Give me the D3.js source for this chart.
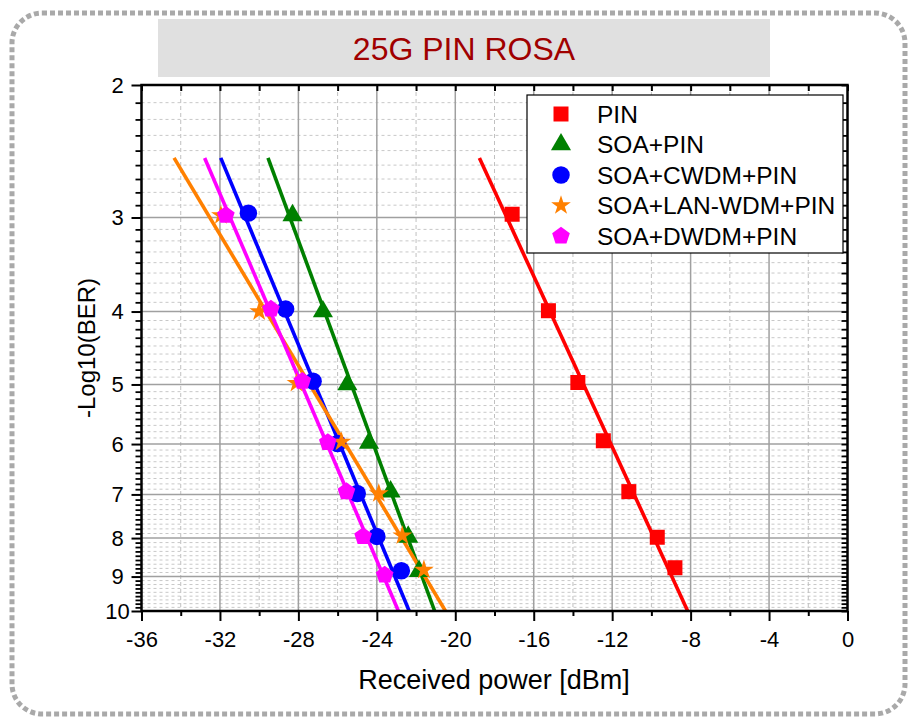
<!DOCTYPE html>
<html>
<head>
<meta charset="utf-8">
<script src="https://cdn.jsdelivr.net/npm/d3@7/dist/d3.min.js"></script>
<style>
  html, body { margin: 0; padding: 0; background: #ffffff; }
  svg { display: block; font-family: Arial, "Liberation Sans", sans-serif; }
</style>
</head>
<body>
<svg id="chart" width="911" height="718"></svg>
<script>
// Received power (dBm) and -log10(BER) for each receiver configuration
const seriesNames = ["PIN", "SOA+PIN", "SOA+CWDM+PIN", "SOA+LAN-WDM+PIN", "SOA+DWDM+PIN"];
const seriesColors = ["#ff0000", "#008000", "#0000ff", "#ff8000", "#ff00ff"];
const seriesSymbols = ["square", "triangle", "circle", "star", "pentagon"];

const pinPower  = [-17.1, -15.25, -13.75, -12.45, -11.15, -9.7, -8.8];
const pinLogBer = [2.97, 3.99, 4.97, 5.94, 6.94, 7.98, 8.76];

const soaPower  = [-28.3, -26.75, -25.5, -24.4, -23.3, -22.4, -21.85];
const soaLogBer = [2.98, 4.0, 5.0, 5.98, 6.94, 7.97, 8.85];

const cwdmPower  = [-30.55, -28.65, -27.25, -26.0, -25.0, -24.0, -22.75];
const cwdmLogBer = [2.96, 3.97, 4.95, 5.99, 6.98, 7.96, 8.84];

const lanPower  = [-31.95, -30.0, -28.1, -25.8, -23.9, -22.7, -21.6];
const lanLogBer = [2.98, 4.0, 4.98, 5.96, 6.98, 7.94, 8.82];

const dwdmPower  = [-31.7, -29.4, -27.8, -26.5, -25.55, -24.7, -23.6];
const dwdmLogBer = [2.98, 3.97, 4.95, 5.97, 6.94, 7.96, 8.96];

// Linear fits: power at -log10(BER) = 2.5 and at 10
const fitLogBer = [2.5, 10];
const fitPowerStart = [-18.77, -29.55, -31.96, -34.34, -32.78];
const fitPowerEnd   = [-8.15, -21.05, -22.35, -20.5, -22.9];

const xTicks = [-36, -32, -28, -24, -20, -16, -12, -8, -4, 0];
const xMinorTicks = [-34, -30, -26, -22, -18, -14, -10, -6, -2];
const yTicks = [2, 3, 4, 5, 6, 7, 8, 9, 10];

const titleText = "25G PIN ROSA";
const xLabel = "Received power [dBm]";
const yLabel = "-Log10(BER)";

const powers = [pinPower, soaPower, cwdmPower, lanPower, dwdmPower];
const logBers = [pinLogBer, soaLogBer, cwdmLogBer, lanLogBer, dwdmLogBer];
const series = seriesNames.map((name, i) => ({
  name,
  color: seriesColors[i],
  symbol: seriesSymbols[i],
  points: powers[i].map((p, j) => ({ x: p, y: logBers[i][j] })),
  fit: [{ x: fitPowerStart[i], y: fitLogBer[0] }, { x: fitPowerEnd[i], y: fitLogBer[1] }]
}));

// Minor ticks: eight evenly spaced values inside each unit interval
const yMinorTicks = [];
for (let k = 2; k < 10; k++) {
  for (let j = 1; j <= 8; j++) yMinorTicks.push(k + j / 9);
}

const svg = d3.select("#chart");
const plot = { left: 141.5, right: 847.5, top: 85, bottom: 611 };

const x = d3.scaleLinear().domain([-36, 0]).range([plot.left, plot.right]);
const y = d3.scaleLog().domain([2, 10]).range([plot.top, plot.bottom]);

// Outer dashed frame
svg.append("rect")
  .attr("x", 12).attr("y", 13).attr("width", 893).attr("height", 701)
  .attr("rx", 30).attr("ry", 30)
  .attr("fill", "none").attr("stroke", "#a9a9a9")
  .attr("stroke-width", 5).attr("stroke-dasharray", "5,3");

// Title banner
svg.append("rect")
  .attr("x", 158).attr("y", 19).attr("width", 612).attr("height", 58)
  .attr("fill", "#e0e0e0");
svg.append("text")
  .attr("x", 464).attr("y", 60)
  .attr("text-anchor", "middle")
  .attr("font-size", 32)
  .attr("fill", "#a00000")
  .text(titleText);

// Grid
const grid = svg.append("g");
grid.selectAll(".ymin").data(yMinorTicks).join("line")
  .attr("x1", plot.left).attr("x2", plot.right)
  .attr("y1", d => y(d)).attr("y2", d => y(d))
  .attr("stroke", "#c8c8c8").attr("stroke-width", 1).attr("stroke-dasharray", "3,3");
grid.selectAll(".xmin").data(xMinorTicks).join("line")
  .attr("x1", d => x(d)).attr("x2", d => x(d))
  .attr("y1", plot.top).attr("y2", plot.bottom)
  .attr("stroke", "#c0c0c0").attr("stroke-width", 1).attr("stroke-dasharray", "4,3");
grid.selectAll(".ymaj").data(yTicks.slice(1, -1)).join("line")
  .attr("x1", plot.left).attr("x2", plot.right)
  .attr("y1", d => y(d)).attr("y2", d => y(d))
  .attr("stroke", "#a0a0a0").attr("stroke-width", 1.5);
grid.selectAll(".xmaj").data(xTicks.slice(1, -1)).join("line")
  .attr("x1", d => x(d)).attr("x2", d => x(d))
  .attr("y1", plot.top).attr("y2", plot.bottom)
  .attr("stroke", "#a0a0a0").attr("stroke-width", 1.5);

// Symbols
const pentagon = {
  draw(ctx, size) {
    const r = Math.sqrt(size / 2.3776);
    for (let i = 0; i < 5; i++) {
      const a = -Math.PI / 2 + i * 2 * Math.PI / 5;
      const px = r * Math.cos(a), py = r * Math.sin(a);
      if (i === 0) ctx.moveTo(px, py); else ctx.lineTo(px, py);
    }
    ctx.closePath();
  }
};
const symbolTypes = {
  square: [d3.symbolSquare, 225],
  triangle: [d3.symbolTriangle, 175],
  circle: [d3.symbolCircle, 240],
  star: [d3.symbolStar, 120],
  pentagon: [pentagon, 205]
};
function symbolPath(name) {
  const [type, size] = symbolTypes[name];
  return d3.symbol().type(type).size(size)();
}

// Fits and measured points
const line = d3.line().x(d => x(d.x)).y(d => y(d.y));
svg.append("clipPath").attr("id", "plotClip")
  .append("rect").attr("x", plot.left).attr("y", plot.top)
  .attr("width", plot.right - plot.left).attr("height", plot.bottom - plot.top);

const dataLayer = svg.append("g").attr("clip-path", "url(#plotClip)");
series.forEach(s => {
  dataLayer.append("path")
    .datum(s.fit)
    .attr("d", line)
    .attr("fill", "none")
    .attr("stroke", s.color)
    .attr("stroke-width", 3.6);
});
series.forEach(s => {
  dataLayer.selectAll(null).data(s.points).join("path")
    .attr("transform", d => `translate(${x(d.x)},${y(d.y)})`)
    .attr("d", symbolPath(s.symbol))
    .attr("fill", s.color);
});

// Axes
const axisFont = 22;
const bottomAxis = svg.append("g").attr("transform", `translate(0,${plot.bottom})`)
  .call(d3.axisBottom(x).tickValues(xTicks).tickSize(10).tickPadding(10)
    .tickFormat(d => d === 0 ? "0" : String(d).replace("\u2212", "-")));
bottomAxis.select(".domain").remove();
bottomAxis.selectAll("text").attr("font-size", axisFont).attr("fill", "#000")
  .attr("font-family", "Arial, 'Liberation Sans', sans-serif");
bottomAxis.selectAll("line").attr("stroke", "#000").attr("stroke-width", 2);
const bottomMinor = svg.append("g").attr("transform", `translate(0,${plot.bottom})`)
  .call(d3.axisBottom(x).tickValues(xMinorTicks).tickSize(5).tickFormat(""));
bottomMinor.select(".domain").remove();
bottomMinor.selectAll("line").attr("stroke", "#000").attr("stroke-width", 2);

const topAxis = svg.append("g").attr("transform", `translate(0,${plot.top})`)
  .call(d3.axisBottom(x).tickValues(xTicks.concat(xMinorTicks)).tickSize(6).tickFormat(""));
topAxis.select(".domain").remove();
topAxis.selectAll("line").attr("stroke", "#000").attr("stroke-width", 2);

const leftAxis = svg.append("g").attr("transform", `translate(${plot.left},0)`)
  .call(d3.axisLeft(y).tickValues(yTicks).tickSize(10).tickPadding(0).tickFormat(d3.format("d")));
leftAxis.select(".domain").remove();
leftAxis.selectAll("line").attr("stroke", "#000").attr("stroke-width", 2);
leftAxis.selectAll("text")
  .attr("font-size", axisFont).attr("fill", "#000")
  .attr("font-family", "Arial, 'Liberation Sans', sans-serif")
  .attr("text-anchor", "middle").attr("x", 117.5 - plot.left);
const leftMinor = svg.append("g").attr("transform", `translate(${plot.left},0)`)
  .call(d3.axisLeft(y).tickValues(yMinorTicks).tickSize(6).tickFormat(""));
leftMinor.select(".domain").remove();
leftMinor.selectAll("line").attr("stroke", "#000").attr("stroke-width", 1.8);

const rightAxis = svg.append("g").attr("transform", `translate(${plot.right},0)`)
  .call(d3.axisLeft(y).tickValues(yTicks.concat(yMinorTicks)).tickSize(6).tickFormat(""));
rightAxis.select(".domain").remove();
rightAxis.selectAll("line").attr("stroke", "#000").attr("stroke-width", 1.8);

// Plot frame
svg.append("rect")
  .attr("x", plot.left).attr("y", plot.top)
  .attr("width", plot.right - plot.left).attr("height", plot.bottom - plot.top)
  .attr("fill", "none").attr("stroke", "#000").attr("stroke-width", 2.5);

// Axis titles
svg.append("text")
  .attr("x", (plot.left + plot.right) / 2 - 0.5).attr("y", 689)
  .attr("text-anchor", "middle").attr("font-size", 27).attr("fill", "#000")
  .text(xLabel);
svg.append("text")
  .attr("transform", `translate(95,${(plot.top + plot.bottom) / 2}) rotate(-90)`)
  .attr("text-anchor", "middle").attr("font-size", 24).attr("fill", "#000")
  .text(yLabel);

// Legend
const legend = svg.append("g");
legend.append("rect")
  .attr("x", 527).attr("y", 95).attr("width", 316).attr("height", 158)
  .attr("fill", "#ffffff").attr("stroke", "#000").attr("stroke-width", 1.2);
series.forEach((s, i) => {
  const cy = 114 + i * 30.5;
  legend.append("path")
    .attr("transform", `translate(561,${cy})`)
    .attr("d", symbolPath(s.symbol))
    .attr("fill", s.color);
  legend.append("text")
    .attr("x", 597).attr("y", cy)
    .attr("dy", "0.35em")
    .attr("font-size", 24.5).attr("fill", "#000")
    .text(s.name);
});
</script>
</body>
</html>
